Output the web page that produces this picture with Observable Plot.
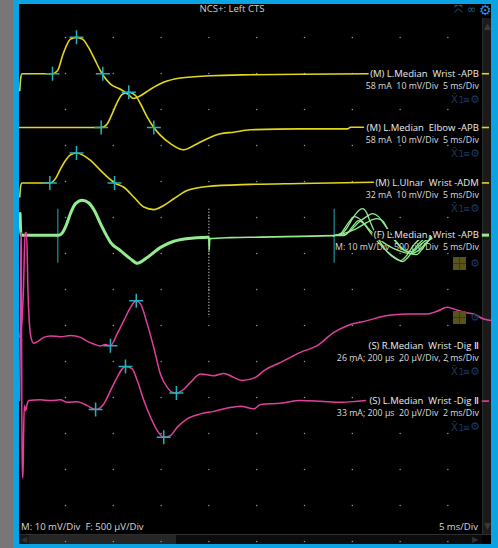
<!DOCTYPE html>
<html><head><meta charset="utf-8">
<script src="https://cdn.jsdelivr.net/npm/d3@7"></script>
<script src="https://cdn.jsdelivr.net/npm/@observablehq/plot@0.6"></script>
<style>
html,body{margin:0;padding:0;background:#000;width:498px;height:548px;overflow:hidden;font-family:"Open Sans",sans-serif;}
#wrap{position:relative;width:498px;height:548px;background:#000;}
.a{position:absolute;}
#chart{position:absolute;left:0;top:0;z-index:2;}
.ico{position:absolute;z-index:3;font-family:"DejaVu Sans",sans-serif;color:#1c3a5a;font-size:12px;line-height:12px;white-space:nowrap;}
.txt{position:absolute;z-index:3;color:#d6d6d6;font-size:9.6px;line-height:12px;white-space:nowrap;}
.olive{position:absolute;z-index:3;width:13px;height:13px;background:#57551a;}
.olive:before{content:"";position:absolute;left:6px;top:0;width:1px;height:13px;background:#3d3b10;}
.olive:after{content:"";position:absolute;left:0;top:6px;width:13px;height:1px;background:#3d3b10;}
</style></head>
<body><div id="wrap">
<!-- scrollbars (under plot) -->
<div class="a" style="left:482px;top:18px;width:9px;height:516px;background:#1b1b1b;border-left:1px solid #2c2c2c;z-index:1"></div>
<div class="a" style="left:483px;top:20px;width:9px;height:12px;color:#3a3a3a;font-size:9px;line-height:12px;text-align:center;z-index:1;font-family:'DejaVu Sans'">▲</div>
<div class="a" style="left:483px;top:520px;width:9px;height:12px;color:#3a3a3a;font-size:9px;line-height:12px;text-align:center;z-index:1;font-family:'DejaVu Sans'">▼</div>
<div class="a" style="left:19px;top:534px;width:473px;height:1px;background:#2e2e2e;z-index:1"></div>
<div class="a" style="left:19px;top:535px;width:463px;height:9px;background:#0c0c0c;z-index:1"></div>
<div class="a" style="left:29px;top:535px;width:147px;height:9px;background:#262626;z-index:1"></div>
<div class="a" style="left:19px;top:535px;width:10px;height:9px;background:#181818;color:#333;font-size:8px;line-height:9px;text-align:center;z-index:1;font-family:'DejaVu Sans'">◀</div>
<div class="a" style="left:470px;top:535px;width:10px;height:9px;color:#333;font-size:8px;line-height:9px;text-align:center;z-index:1;font-family:'DejaVu Sans'">▶</div>
<div id="chart"></div>
<!-- chrome over plot -->
<div class="txt" style="left:0;width:464px;top:3px;text-align:center;color:#cfcfcf;">NCS+: Left CTS</div>
<div class="txt" style="left:21px;top:521px;">M: 10 mV/Div&nbsp; F: 500 µV/Div</div>
<div class="txt" style="left:380px;width:98px;top:521px;text-align:right;">5 ms/Div</div>
<div class="ico" style="left:454px;top:4px;color:#2a5f8e;font-size:11px;">⤧</div>
<div class="ico" style="left:467px;top:4px;color:#2a5f8e;font-size:11px;">∞</div>
<div class="ico" style="left:479px;top:3px;color:#2b8fe0;font-size:14px;line-height:14px;">⚙</div>
<div id="icons"></div>
<!-- borders -->
<div class="a" style="left:0;top:0;width:13px;height:548px;background:#777;z-index:4"></div>
<div class="a" style="left:13px;top:0;width:6px;height:548px;background:#0aa4e4;z-index:4"></div>
<div class="a" style="left:13px;top:0;width:485px;height:4px;background:#0aa4e4;z-index:4"></div>
<div class="a" style="left:491px;top:0;width:7px;height:548px;background:#0aa4e4;z-index:4"></div>
<div class="a" style="left:13px;top:544px;width:485px;height:4px;background:#0aa4e4;z-index:4"></div>
</div>
<script>
// ---------- data (time in ms, amplitude in mV or µV) ----------
const traceLabels = ["(M) L.Median  Wrist -APB","(M) L.Median  Elbow -APB","(M) L.Ulnar  Wrist -ADM","(F) L.Median  Wrist -APB","(S) R.Median  Wrist -Dig Ⅱ","(S) L.Median  Wrist -Dig Ⅱ"];
const traceSettings = ["58 mA  10 mV/Div  5 ms/Div","58 mA  10 mV/Div  5 ms/Div","32 mA  10 mV/Div  5 ms/Div","M: 10 mV/Div  500 µV/Div  5 ms/Div","26 mA; 200 µs  20 µV/Div, 2 ms/Div","33 mA; 200 µs  20 µV/Div  2 ms/Div"];
const msPerDiv = [5,5,5,5,2,2];
const gridCols = [1,2,3,4,5,6,7,8,9];
const gridRows = [1,2,3,4,5,6,7,8,9,10,11,12,13,14,15];

const medianWristAPB = [[0.22,-4.7],[0.3,-1.5],[0.45,0],[1.0,0],[3.64,0],[4.16,0.8],[4.69,5.0],[5.1,7.8],[5.52,9.6],[6.15,10.1],[6.78,9.6],[7.41,7.3],[8.03,4.1],[8.66,0.8],[9.08,-1.0],[9.71,-2.9],[10.75,-4.3],[11.59,-5.8],[12.11,-6.9],[12.85,-6.1],[13.89,-4.3],[15.25,-2.4],[17.03,-1.2],[20.17,-0.56],[24.35,-0.28],[29.58,-0.14],[36.69,0]];
const medianElbowAPB = [[0.2,0],[8.73,0],[9.36,1.0],[9.88,3.8],[10.41,7.0],[10.93,9.2],[11.62,9.8],[12.32,8.9],[12.84,6.6],[13.55,2.9],[14.24,0],[14.94,-2.2],[15.98,-4.5],[17.37,-6.2],[18.42,-5.0],[19.82,-3.1],[21.21,-1.75],[22.6,-1.3],[24.35,-0.64],[29.58,-0.37],[34.5,-0.37],[34.81,0.05],[36.17,0.05]];
const ulnarWristADM = [[0.22,-3.9],[0.3,-1.0],[0.45,0],[3.36,0],[3.95,1.2],[4.48,3.9],[5.0,6.25],[5.52,7.8],[6.15,8.3],[6.91,7.6],[7.62,6.25],[8.66,3.5],[9.71,0.9],[10.13,0],[11.1,-1.2],[12.14,-3.9],[13.19,-6.7],[14.24,-7.4],[15.28,-6.25],[16.33,-4.4],[17.73,-2.1],[19.82,-1.0],[24.35,-0.4],[29.58,-0.14],[37.22,0.2]];
const fMwave = [[0.25,6.0],[0.35,0],[4.3,0],[4.69,0.7],[5.1,2.9],[5.52,6.0],[6.05,8.75],[6.75,9.7],[7.41,9.0],[8.03,6.8],[8.66,3.2],[9.29,-0.1],[9.71,-2.0],[10.75,-4.3],[11.8,-6.6],[12.5,-7.8],[13.55,-6.2],[14.94,-3.4],[16.33,-1.7],[18.42,-0.8],[19.9,-0.6]];
const fBaseline = [[19.99,-35],[20.02,-215],[20.1,-49],[22.26,-35],[25.4,-28],[29.58,-17],[33.03,-7]];
const fWave1 = [[33.03,-7],[33.77,7],[34.39,90],[35.02,229],[35.65,340],[36.07,368],[36.49,313],[36.9,174],[37.53,-7],[38.37,-188],[39.21,-299],[40.04,-354],[40.67,-285],[41.3,-160],[42.13,-49],[43.18,-7]];
const fWave2 = [[33.03,-7],[33.97,-7],[34.81,63],[35.65,174],[36.49,257],[37.11,299],[37.74,257],[38.37,146],[39.21,-21],[40.04,-160],[40.87,-243],[41.71,-271],[42.34,-188],[43.18,-49],[44.23,-7]];
const fWave3 = [[33.03,-7],[34.29,7],[35.02,118],[35.65,201],[36.28,146],[36.9,35],[37.74,-104],[38.79,-243],[39.62,-326],[40.25,-368],[40.87,-299],[41.71,-160],[42.76,-35],[44.23,-7]];
const fWave4 = [[33.03,-7],[33.77,21],[34.6,174],[35.23,257],[35.86,215],[36.69,90],[37.53,-21],[38.58,-132],[39.83,-215],[41.08,-257],[41.92,-215],[42.97,-76],[44.23,-7]];
const fWave5 = [[33.03,-7],[34.39,35],[35.44,90],[36.49,174],[37.53,229],[38.16,201],[38.79,63],[39.62,-104],[40.46,-215],[41.3,-229],[42.13,-132],[43.18,-35],[44.23,-7]];
const sensoryRWrist = [[0.08,5.0],[0.16,11.1],[0.24,30.6],[0.31,62.8],[0.37,62.8],[0.43,30.6],[0.54,5.6],[0.67,1.3],[0.83,2.2],[1.09,4.6],[1.37,5.4],[1.79,5.0],[2.21,5.6],[2.63,4.6],[2.91,2.4],[3.18,0.9],[3.46,-0.2],[3.67,0.6],[3.88,0],[4.16,6.5],[4.44,13.9],[4.72,21.3],[4.96,25.0],[5.14,23.2],[5.42,12.1],[5.69,-0.9],[5.97,-15.7],[6.26,-23.2],[6.46,-25.9],[6.64,-26.3],[6.88,-25.0],[7.23,-20.4],[7.65,-15.7],[8.21,-16.7],[8.62,-15.4],[9.04,-17.6],[9.39,-19.4],[9.95,-17.6],[10.3,-13.9],[11.0,-9.3],[11.83,-3.7],[12.53,0],[13.23,7.4],[13.79,11.1],[14.62,13.9],[15.46,16.7],[16.3,17.6],[17.13,17.6],[17.55,19.1],[17.97,21.3],[18.25,20.4],[18.67,18.5],[19.08,17.6],[19.5,14.8],[19.92,13.9]];
const sensoryLWrist = [[0.08,0.3],[0.11,44.7],[0.13,93.6],[0.15,93.6],[0.17,0.3],[0.19,-42.5],[0.22,-42.5],[0.25,-16.4],[0.28,-2.5],[0.33,-5.3],[0.39,-1.9],[0.46,0.3],[0.95,0.7],[1.37,0.3],[1.79,0.7],[2.07,-0.7],[2.49,-0.3],[2.91,-2.5],[3.26,-4.7],[3.6,-1.6],[3.88,5.8],[4.16,13.2],[4.37,17.9],[4.51,19.2],[4.79,17.9],[5.0,11.4],[5.28,0.3],[5.56,-9.0],[5.84,-16.4],[6.11,-20.1],[6.39,-19.2],[6.67,-14.6],[7.09,-9.9],[7.65,-7.1],[8.21,-5.7],[8.77,-3.8],[9.32,-2.8],[9.88,-4.3],[10.16,-1.9],[11.0,-1.2],[11.83,0.3],[12.67,-0.1],[13.51,-0.7],[14.2,-0.1],[14.55,0.3]];

const medianWristCursors = [[3.64,0],[6.15,10.1],[8.9,0]];
const medianElbowCursors = [[8.73,0],[11.62,9.8],[14.24,0]];
const ulnarWristCursors = [[3.36,0],[6.15,8.3],[10.13,0]];
const sensoryRCursors = [[3.88,0],[4.96,25.0],[6.64,-26.3]];
const sensoryLCursors = [[3.26,-4.7],[4.51,19.2],[6.11,-20.1]];
const fLatencies = [4.2, 33.1];
const fGainSwitch = [20];

// ---------- layout ----------
const rows = [2.006, 3.5, 5.04, 6.49, 9.56, 11.1];   // baseline of each trace, in divisions from top
const labelX = 9.646, handleX1 = 9.72, handleX2 = 9.87;
const YEL = "#e2d71c", GRN = "#93ec8f", PNK = "#e0409c", CYN = "#22b2bb";

const toDiv = (pts, row, msd, unitPerDiv) => pts.map(([t, a]) => ({x: t / msd, y: row - a / unitPerDiv}));

const gridPts = d3.cross(gridCols, gridRows).map(([x, y]) => ({x, y}));
const plus = {draw(ctx, size) { const r = Math.sqrt(size / Math.PI); ctx.moveTo(-r, 0); ctx.lineTo(r, 0); ctx.moveTo(0, -r); ctx.lineTo(0, r); }};

const cursors = [
  ...toDiv(medianWristCursors, rows[0], 5, 10),
  ...toDiv(medianElbowCursors, rows[1], 5, 10),
  ...toDiv(ulnarWristCursors, rows[2], 5, 10),
  ...toDiv(sensoryRCursors, rows[4], 2, 20),
  ...toDiv(sensoryLCursors, rows[5], 2, 20)
];
const labelRows = traceLabels.map((t, i) => ({text: t, sub: traceSettings[i], y: rows[i], i}));
const handleColors = [YEL, YEL, YEL, GRN, null, PNK];
const handles = labelRows.filter(d => handleColors[d.i]);

const line = (data, stroke, w) => Plot.line(data, {x: "x", y: "y", stroke, strokeWidth: w, curve: "monotone-x"});
const FONT = "Open Sans";

const chart = Plot.plot({
  width: 498, height: 548, margin: 0,
  x: {domain: [0, 10], range: [17.2, 495.2], axis: null},
  y: {domain: [0, 15], range: [1, 541], axis: null},
  style: {background: "transparent", overflow: "visible"},
  marks: [
    Plot.dot(gridPts, {x: "x", y: "y", r: 0.75, fill: "#9a9a9a"}),
    Plot.ruleX(fGainSwitch, {x: d => d / msPerDiv[3], y1: rows[3] - 0.72, y2: rows[3] + 2.29, stroke: "#e0e0e0", strokeDasharray: "1.2,1.8", strokeWidth: 1}),
    Plot.ruleX(fLatencies, {x: d => d / msPerDiv[3], y1: rows[3] - 0.72, y2: rows[3] + 0.78, stroke: CYN, strokeWidth: 1}),
    line(toDiv(medianWristAPB, rows[0], 5, 10), YEL, 1.6),
    line(toDiv(medianElbowAPB, rows[1], 5, 10), YEL, 1.6),
    line(toDiv(ulnarWristADM, rows[2], 5, 10), YEL, 1.6),
    line(toDiv(fMwave, rows[3], 5, 10), GRN, 3),
    line(toDiv(fBaseline, rows[3], 5, 500), GRN, 1.6),
    line(toDiv(sensoryRWrist, rows[4], 2, 20), PNK, 1.5),
    line(toDiv(sensoryLWrist, rows[5], 2, 20), PNK, 1.5),
    Plot.ruleY(handles, {y: "y", x1: handleX1, x2: handleX2, stroke: d => handleColors[d.i], strokeWidth: d => d.i === 3 ? 3 : 1.6}),
    Plot.dot(cursors, {x: "x", y: "y", symbol: plus, r: 7, fill: "none", stroke: CYN, strokeWidth: 1.5}),
    Plot.text(labelRows, {x: labelX, y: "y", text: "sub", dy: 12.5, textAnchor: "end", fill: "#dcdcdc", fontSize: 8.8, fontFamily: FONT}),
    ...[fWave1, fWave2, fWave3, fWave4, fWave5].map(w => line(toDiv(w, rows[3], 5, 500), GRN, 1.3)),
    Plot.text(labelRows, {x: labelX, y: "y", text: "text", textAnchor: "end", fill: "#ececec", stroke: "#000", strokeWidth: 4, fontSize: 9.5, fontFamily: FONT})
  ]
});
document.getElementById("chart").appendChild(chart);

// trace tool icons, placed from the y scale
const ys = chart.scale("y");
const iconHost = document.getElementById("icons");
const iconRows = [0, 1, 2, 4, 5];
iconRows.forEach(i => {
  const top = ys.apply(rows[i]) + 21;
  iconHost.insertAdjacentHTML("beforeend",
    `<div class="ico" style="left:451px;top:${top}px;font-size:10px;">X̄</div>` +
    `<div class="ico" style="left:458.5px;top:${top}px;font-size:9px;letter-spacing:-1.5px;">1≡</div>` +
    `<div class="ico" style="left:470px;top:${top - 0.5}px;font-size:11px;">⚙</div>`);
});
[ys.apply(rows[3]) + 22, ys.apply(rows[4]) - 34].forEach(top => {
  iconHost.insertAdjacentHTML("beforeend",
    `<div class="olive" style="left:453px;top:${top}px;"></div>` +
    `<div class="ico" style="left:470px;top:${top + 1}px;font-size:11px;">⚙</div>`);
});
</script>
</body></html>
